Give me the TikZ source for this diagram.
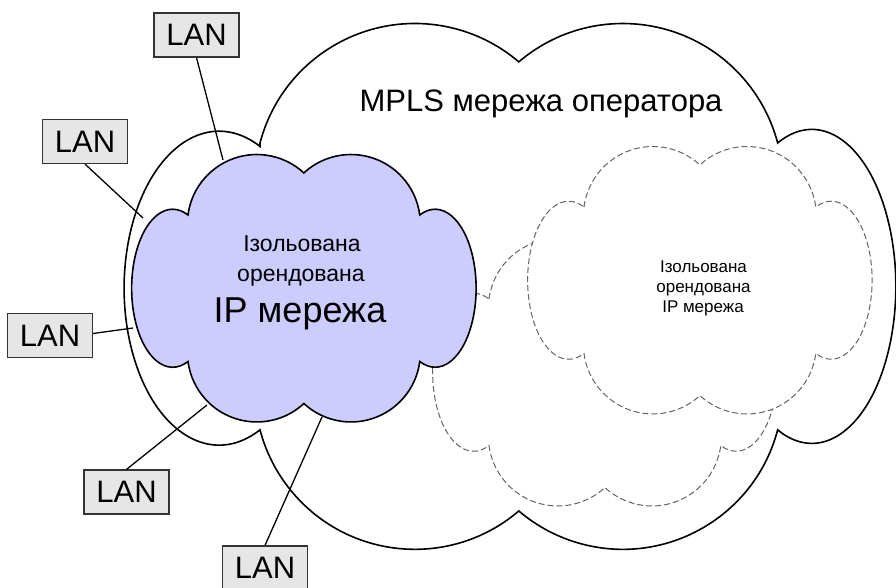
\documentclass[tikz,border=0pt]{standalone}
\usepackage{fontspec}
\setmainfont{Liberation Sans}
\definecolor{ipblue}{RGB}{204,204,255}
\definecolor{langray}{RGB}{230,230,230}
\definecolor{dashgray}{RGB}{100,100,100}
\tikzset{
  smallcloud/.pic={
    \path[pic actions] (-116,74)
      arc[start angle=172.6, end angle=47.3, radius=69.4pt]
      arc[start angle=132.7, end angle=7.4, radius=69.4pt]
      arc[start angle=112, end angle=-112, x radius=41pt, y radius=79pt]
      arc[start angle=-7.4, end angle=-132.7, radius=69.4pt]
      arc[start angle=-47.3, end angle=-172.6, radius=69.4pt]
      arc[start angle=-68, end angle=-292, x radius=41pt, y radius=79pt]
      -- cycle;
  },
  bigcloud/.pic={
    \path[pic actions] (-259,143)
      arc[start angle=165.3, end angle=49.5, radius=160.1pt]
      arc[start angle=130.5, end angle=14.7, radius=160.1pt]
      arc[start angle=114, end angle=-114, x radius=84pt, y radius=157pt]
      arc[start angle=-14.7, end angle=-130.5, radius=160.1pt]
      arc[start angle=-49.5, end angle=-165.3, radius=160.1pt]
      arc[start angle=-64.5, end angle=-295.5, x radius=95pt, y radius=157pt]
      -- cycle;
  },
  mplsstyle/.style={draw=black, fill=white, line width=1.6pt},
  dashcloud/.style={draw=dashgray, fill=white, line width=1pt, dash pattern=on 6pt off 3pt},
  ipcloud/.style={draw=black, fill=ipblue, line width=1.6pt},
  lanbox/.style={draw=black!80, fill=langray, line width=1.2pt, minimum width=85pt,
    minimum height=44pt, inner sep=0pt, font=\fontsize{31}{31}\selectfont},
  lanline/.style={line width=1.3pt, black},
  bigtext/.style={anchor=base, font=\fontsize{31}{31}\selectfont},
  midtext/.style={anchor=base, font=\fontsize{23}{23}\selectfont},
  iptext/.style={anchor=base, font=\fontsize{36}{36}\selectfont},
  smalltext/.style={anchor=base, font=\fontsize{17}{17}\selectfont},
}
\begin{document}
\begin{tikzpicture}[x=1pt, y=1pt]
\useasboundingbox (0,0) rectangle (896,588);
\clip (0,0) rectangle (896,588);
% operator MPLS cloud
\pic[mplsstyle] at (519,302) {bigcloud};
\node[bigtext] (mpls) at (541,476) {MPLS мережа оператора};
% dashed clouds
\pic[dashcloud] at (605,215) {smallcloud};
\pic[dashcloud] at (700,307) {smallcloud};
\node[smalltext] (s1) at (703.5,315) {Ізольована};
\node[smalltext] (s2) at (703.5,295) {орендована};
\node[smalltext] (s3) at (703,275) {IP мережа};
% blue cloud
\pic[ipcloud] at (304,299) {smallcloud};
\node[midtext] (b1) at (302,336) {Ізольована};
\node[midtext] (b2) at (301,306) {орендована};
\node[iptext] (b3) at (300,265) {IP мережа};
% LAN boxes
\node[lanbox] (lan1) at (196.5,553) {LAN};
\node[lanbox] (lan2) at (85,446.5) {LAN};
\node[lanbox] (lan3) at (50,252.5) {LAN};
\node[lanbox] (lan4) at (126.5,96) {LAN};
\node[lanbox] (lan5) at (265,20) {LAN};
% touch points on the blue cloud
\coordinate (t1) at (223,428);
\coordinate (t2) at (143,370);
\coordinate (t3) at (133,260);
\coordinate (t4) at (207,183);
\coordinate (t5) at (322,171);
\draw[lanline] (lan1.south) -- (t1);
\draw[lanline] (lan2.south) -- (t2);
\draw[lanline] ([yshift=2pt]lan3.east) -- (t3);
\draw[lanline] (lan4.north) -- (t4);
\draw[lanline] (lan5.north) -- (t5);
\end{tikzpicture}
\end{document}
